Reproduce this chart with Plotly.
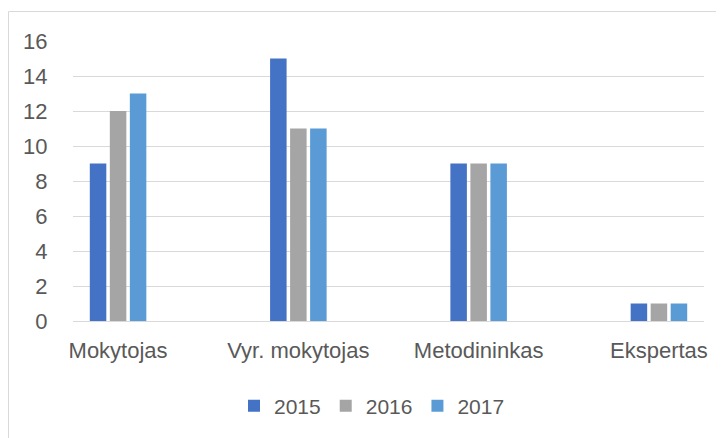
import plotly.graph_objects as go

categories = ["Mokytojas", "Vyr. mokytojas", "Metodininkas", "Ekspertas"]
series_names = ["2015", "2016", "2017"]
values_2015 = [9, 15, 9, 1]
values_2016 = [12, 11, 9, 1]
values_2017 = [13, 11, 9, 1]
y_ticks = [0, 2, 4, 6, 8, 10, 12, 14, 16]

colors = ["#4472C4", "#A5A5A5", "#5B9BD5"]
OFF = 8  # default page body margin
W, H = 724 - OFF, 438 - OFF
L, R, T, B = 73 - OFF, 20, 41 - OFF, 117
FONT = dict(family="Liberation Sans, Arial, sans-serif", size=22, color="#595959")
LFONT = dict(family="Liberation Sans, Arial, sans-serif", size=21, color="#595959")

fig = go.Figure()
for name, vals, c in zip(series_names, [values_2015, values_2016, values_2017], colors):
    fig.add_trace(go.Bar(x=categories, y=vals, name=name, marker=dict(color=c, line=dict(width=0))))

pw = W - L - R
ph = H - T - B
def px_x(x):  # reference page x -> paper coord
    return (x - OFF - L) / pw
def px_y(y):  # reference page y -> paper coord
    return 1 - (y - OFF - T) / ph

fig.update_layout(
    width=W, height=H,
    margin=dict(l=L, r=R, t=T, b=B, pad=0),
    paper_bgcolor="white", plot_bgcolor="white",
    font=FONT,
    barmode="group", bargap=0.667, bargroupgap=0.175,
    xaxis=dict(type="category", range=[-0.25, 3.25], showgrid=False, zeroline=False,
               showline=False, ticks="outside", ticklen=10, tickcolor="rgba(0,0,0,0)",
               tickfont=FONT),
    yaxis=dict(range=[0, 16], tickvals=y_ticks, showgrid=True, gridcolor="#D9D9D9", gridwidth=1,
               zeroline=True, zerolinecolor="#D9D9D9", zerolinewidth=1, showline=False,
               ticks="outside", ticklen=20, tickcolor="rgba(0,0,0,0)", tickfont=FONT),
    legend=dict(orientation="h", x=px_x(372), xanchor="center",
                y=px_y(406), yanchor="middle", font=LFONT,
                itemwidth=30, tracegroupgap=0),
    showlegend=True,
    shapes=[dict(type="rect", xref="paper", yref="paper",
                 x0=px_x(8.5), x1=px_x(740),
                 y0=px_y(460), y1=px_y(11.5),
                 line=dict(color="#D9D9D9", width=1), fillcolor="rgba(0,0,0,0)", layer="below")],
)
fig.write_html("out.html")
